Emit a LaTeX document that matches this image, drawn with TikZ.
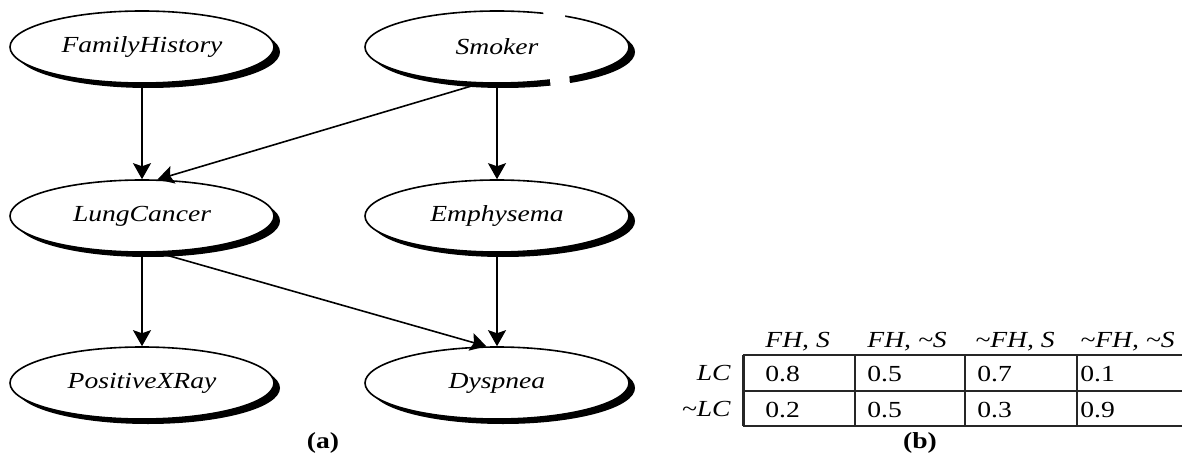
\documentclass[tikz,border=0pt]{standalone}
\usepackage{fontspec}
\setmainfont{Liberation Serif}
\usepackage{graphicx}
\usetikzlibrary{shapes.geometric,arrows.meta,shadows}

% labels are set slightly wide
\newcommand{\widetext}[1]{\scalebox{1.2}[1]{#1}}

\begin{document}
\begin{tikzpicture}[x=0.5pt,y=-0.5pt,
  var/.style={ellipse, draw, line width=0.8pt, fill=white,
    minimum width=132pt, minimum height=36pt, inner sep=0pt,
    font=\fontsize{11.5}{13}\selectfont\itshape,
    drop shadow={shadow xshift=3pt, shadow yshift=-2.5pt,
      fill=black, opacity=1, draw=none}},
  link/.style={-{Stealth[length=8pt,width=9pt,inset=1.5pt]}, line width=0.8pt},
  cell/.style={anchor=base west, inner sep=0pt, font=\fontsize{11.5}{13}\selectfont},
  head/.style={cell, font=\fontsize{11.5}{13}\selectfont\itshape},
  rowlabel/.style={anchor=base east, inner sep=0pt, font=\fontsize{11.5}{13}\selectfont\itshape},
  caption/.style={anchor=base, inner sep=0pt, font=\fontsize{11.5}{13}\selectfont\bfseries},
  grid/.style={line width=1pt, draw=black!85}]
\useasboundingbox (0,0) rectangle (1182,454);

% belief network
\node[var] (fh) at (142,47)  {\widetext{FamilyHistory}};
\node[var] (sm) at (497,47)  {\widetext{Smoker}};
\fill[white] (542,0) -- (564,0) -- (571,100) -- (552,100) -- cycle;
\node[var] (lc) at (142,216) {\widetext{LungCancer}};
\node[var] (em) at (497,216) {\widetext{Emphysema}};
\node[var] (px) at (142,383) {\widetext{PositiveXRay}};
\node[var] (dy) at (497,383) {\widetext{Dyspnea}};

\draw[link] (fh) -- (lc);
\draw[link] (sm.245) -- (lc.67);
\draw[link] (sm) -- (em);
\draw[link] (lc) -- (px);
\draw[link] (lc.293) -- (dy.106);
\draw[link] (em) -- (dy);

\node[caption] (capa) at (323,448) {\widetext{(a)}};

% conditional probability table for LungCancer
\draw[grid] (743,355) -- (1182,355);
\draw[grid] (743,391) -- (1182,391);
\draw[grid] (743,426) -- (1182,426);
\draw[grid, line width=1.5pt] (743,355) -- (743,426);
\draw[grid] (855,355) -- (855,426);
\draw[grid] (965,355) -- (965,426);
\draw[grid] (1077,355) -- (1077,426);

\node[head] (h1) at (765,347)  {\widetext{FH, S}};
\node[head] (h2) at (867,347)  {\widetext{FH, \textasciitilde S}};
\node[head] (h3) at (975,347)  {\widetext{\textasciitilde FH, S}};
\node[head] (h4) at (1080,347) {\widetext{\textasciitilde FH, \textasciitilde S}};

\node[rowlabel] (r1) at (731,380) {\widetext{LC}};
\node[rowlabel] (r2) at (731,416) {\widetext{\textasciitilde LC}};

\node[cell] (c11) at (765,381)  {\widetext{0.8}};
\node[cell] (c12) at (867,381)  {\widetext{0.5}};
\node[cell] (c13) at (977,381)  {\widetext{0.7}};
\node[cell] (c14) at (1080,381) {\widetext{0.1}};
\node[cell] (c21) at (765,417)  {\widetext{0.2}};
\node[cell] (c22) at (867,417)  {\widetext{0.5}};
\node[cell] (c23) at (977,417)  {\widetext{0.3}};
\node[cell] (c24) at (1080,417) {\widetext{0.9}};

\node[caption] (capb) at (920,448) {\widetext{(b)}};
\end{tikzpicture}
\end{document}
